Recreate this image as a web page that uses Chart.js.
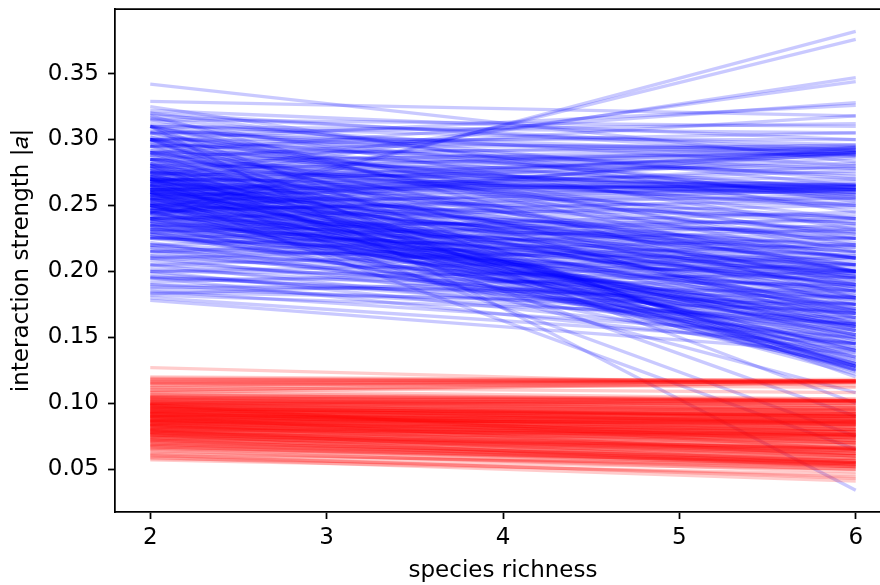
<!DOCTYPE html>
<html>
<head>
<meta charset="utf-8">
<script src="https://cdn.jsdelivr.net/npm/chart.js@4/dist/chart.umd.min.js"></script>
<style>
  html, body { margin: 0; padding: 0; background: #fff; overflow: hidden; }
  #wrap { width: 893px; height: 585px; position: relative; }
</style>
</head>
<body>
<div id="wrap"><canvas id="c"></canvas></div>
<script>
// species richness endpoints
const xValues = [2, 6];
const xTicks = [2, 3, 4, 5, 6];
const yTicks = [0.05, 0.10, 0.15, 0.20, 0.25, 0.30, 0.35];

// blue series: interaction strength at richness 2 and 6
const blueStart = [
  0.240,0.245,0.267,0.272,0.290,0.300,0.329,0.342,0.315,0.310,
  0.305,0.285,0.295,0.290,0.280,0.285,0.300,0.275,0.265,0.305,
  0.270,0.280,0.262,0.290,0.255,0.300,0.268,0.262,0.265,0.258,
  0.270,0.250,0.275,0.255,0.248,0.280,0.310,0.320,0.245,0.260,
  0.300,0.285,0.315,0.250,0.235,0.290,0.325,0.305,0.240,0.300,
  0.310,0.280,0.270,0.290,0.260,0.250,0.245,0.235,0.225,0.215,
  0.220,0.230,0.240,0.255,0.265,0.275,0.285,0.300,0.295,0.305,
  0.310,0.210,0.200,0.205,0.195,0.270,0.260,0.240,0.245,0.250,
  0.255,0.260,0.265,0.270,0.235,0.230,0.225,0.220,0.215,0.210,
  0.205,0.200,0.195,0.190,0.185,0.180,0.178,0.275,0.280,0.285,
  0.290,0.300,0.270,0.260,0.250,0.240,0.245,0.255,0.235,0.265,
  0.310,0.228,0.258,0.248,0.238,0.310,0.280,0.270,0.260,0.300,
  0.250,0.252,0.248,0.256,0.244,0.238,0.232,0.262,0.268,0.276,
  0.282,0.292,0.298,0.318,0.302,0.195,0.188,0.183,0.220,0.210,
  0.272,0.278,0.282,0.260,0.288,0.266,0.252,0.270,0.278,0.246,
  0.258,0.285,0.262,0.240,0.274,0.232,0.236,0.242,0.248,0.254,
  0.258,0.264,0.268,0.272,0.278,0.226,0.218,0.212,0.262,0.268,
  0.243,0.247,0.253,0.257,0.263,0.267,0.273,0.238,0.233,0.228,
  0.278,0.272,0.268,0.262,0.256,0.252,0.246,0.282,0.288,0.295,
  0.300,0.295,0.310,0.318,0.322,0.240,0.230,0.225,0.215,0.205,
  0.200,0.192,0.187,0.182,0.198,0.275,0.285,0.295,0.270,0.260,
  0.248,0.252,0.258,0.262,0.244,0.236,0.232,0.226,0.270,0.276,
  0.242,0.250,0.258,0.266,0.274,0.230,0.222,0.218,0.252,0.264,
  0.240,0.246,0.254,0.260,0.266,0.272,0.228,0.234,0.258,0.250,
  0.302,0.308,0.298,0.312,0.316,0.292,0.288,0.296,0.306,0.320,
  0.268,0.262,0.256,0.250,0.244,0.270,0.264,0.276,0.282,0.254,
  0.208,0.212,0.216,0.196,0.202,0.190,0.184,0.232,0.238,0.226
];
const blueEnd = [
  0.382,0.376,0.347,0.344,0.328,0.326,0.318,0.283,0.310,0.305,
  0.312,0.318,0.295,0.293,0.291,0.289,0.292,0.294,0.290,0.287,
  0.288,0.278,0.276,0.274,0.280,0.272,0.282,0.265,0.263,0.262,
  0.260,0.264,0.258,0.255,0.252,0.250,0.256,0.253,0.262,0.266,
  0.240,0.236,0.232,0.242,0.238,0.228,0.245,0.225,0.230,0.220,
  0.215,0.210,0.205,0.200,0.198,0.195,0.190,0.200,0.205,0.210,
  0.195,0.185,0.182,0.188,0.192,0.200,0.186,0.190,0.200,0.210,
  0.200,0.188,0.195,0.180,0.190,0.182,0.185,0.165,0.160,0.158,
  0.155,0.152,0.150,0.148,0.162,0.170,0.175,0.168,0.160,0.155,
  0.150,0.145,0.140,0.160,0.150,0.145,0.138,0.140,0.135,0.130,
  0.128,0.125,0.130,0.126,0.130,0.135,0.142,0.138,0.128,0.122,
  0.120,0.145,0.170,0.175,0.178,0.034,0.090,0.075,0.065,0.100,
  0.108,0.215,0.220,0.210,0.205,0.212,0.218,0.225,0.230,0.222,
  0.170,0.165,0.175,0.180,0.160,0.175,0.185,0.200,0.235,0.225,
  0.292,0.290,0.294,0.289,0.296,0.264,0.261,0.266,0.262,0.258,
  0.266,0.260,0.268,0.256,0.270,0.205,0.198,0.200,0.202,0.196,
  0.207,0.210,0.196,0.188,0.194,0.192,0.200,0.198,0.200,0.214,
  0.158,0.163,0.161,0.157,0.155,0.165,0.158,0.155,0.152,0.158,
  0.128,0.125,0.127,0.130,0.125,0.133,0.128,0.124,0.132,0.128,
  0.300,0.305,0.296,0.292,0.300,0.250,0.245,0.240,0.232,0.220,
  0.210,0.205,0.170,0.165,0.160,0.240,0.248,0.250,0.236,0.240,
  0.185,0.190,0.180,0.178,0.172,0.168,0.180,0.185,0.172,0.168,
  0.148,0.145,0.142,0.140,0.135,0.140,0.145,0.152,0.152,0.146,
  0.220,0.215,0.225,0.218,0.205,0.210,0.212,0.225,0.232,0.228,
  0.262,0.270,0.258,0.280,0.265,0.255,0.264,0.278,0.290,0.288,
  0.290,0.292,0.286,0.290,0.294,0.262,0.260,0.265,0.262,0.264,
  0.168,0.175,0.180,0.168,0.172,0.180,0.175,0.195,0.190,0.200
];

// red series: interaction strength at richness 2 and 6
const redStart = [
  0.127,0.120,0.119,0.118,0.117,0.116,0.115,0.113,0.112,0.110,
  0.108,0.107,0.105,0.104,0.103,0.102,0.101,0.100,0.099,0.098,
  0.097,0.096,0.095,0.094,0.093,0.092,0.091,0.090,0.089,0.088,
  0.087,0.086,0.085,0.084,0.083,0.082,0.081,0.080,0.079,0.078,
  0.077,0.076,0.075,0.074,0.073,0.072,0.071,0.070,0.069,0.068,
  0.067,0.066,0.065,0.064,0.062,0.060,0.059,0.058,0.057,0.100,
  0.098,0.095,0.092,0.090,0.088,0.086,0.085,0.084,0.082,0.080,
  0.078,0.096,0.094,0.091,0.089,0.087,0.100,0.102,0.104,0.106,
  0.110,0.114,0.093,0.097,0.099,0.083,0.079,0.076,0.090,
  0.118,0.116,0.115,0.112,0.110,0.108,0.106,0.104,0.103,0.101,
  0.100,0.099,0.098,0.097,0.096,0.095,0.094,0.093,0.092,0.091,
  0.090,0.089,0.088,0.087,0.086,0.085,0.084,0.083,0.082,0.081,
  0.080,0.079,0.078,0.077,0.076,0.075,0.074,0.073,0.072,0.071,
  0.070,0.069,0.068,0.067,0.066,0.100,0.098,0.096,0.094,0.092,
  0.090,0.088,0.086,0.084,0.082,0.080,0.078,0.076,0.074,0.072,
  0.105,0.103,0.101,0.099,0.097,0.095,0.093,0.091,0.089,0.087,
  0.085,0.083,0.081,0.079,0.077,0.061,0.063,0.060,0.086,0.092
];
const redEnd = [
  0.113,0.117,0.117,0.116,0.118,0.116,0.112,0.117,0.108,0.103,
  0.102,0.101,0.102,0.098,0.094,0.100,0.096,0.092,0.090,0.088,
  0.085,0.092,0.086,0.080,0.088,0.084,0.078,0.082,0.076,0.085,
  0.072,0.080,0.075,0.070,0.078,0.068,0.074,0.065,0.072,0.062,
  0.070,0.066,0.060,0.064,0.058,0.062,0.055,0.060,0.052,0.058,
  0.055,0.050,0.054,0.048,0.052,0.044,0.041,0.050,0.046,0.100,
  0.097,0.095,0.090,0.088,0.082,0.086,0.083,0.080,0.077,0.075,
  0.073,0.090,0.091,0.087,0.084,0.079,0.095,0.097,0.101,0.102,
  0.116,0.117,0.076,0.070,0.065,0.062,0.055,0.052,0.060,
  0.117,0.117,0.116,0.117,0.115,0.116,0.103,0.102,0.102,0.101,
  0.102,0.100,0.092,0.090,0.091,0.089,0.090,0.086,0.087,0.085,
  0.086,0.085,0.084,0.085,0.076,0.077,0.075,0.076,0.074,0.075,
  0.076,0.067,0.066,0.065,0.064,0.066,0.065,0.063,0.056,0.057,
  0.055,0.056,0.054,0.053,0.055,0.088,0.084,0.082,0.078,0.080,
  0.072,0.070,0.068,0.066,0.064,0.060,0.058,0.056,0.054,0.052,
  0.098,0.096,0.093,0.094,0.095,0.092,0.092,0.090,0.088,0.082,
  0.080,0.072,0.070,0.062,0.060,0.043,0.050,0.053,0.078,0.074
];

const BLUE = 'rgba(0,0,255,0.21)';
const RED = 'rgba(255,0,0,0.2)';
const LW = 3.3;

function makeSet(starts, ends, color) {
  return starts.map((s, i) => ({
    data: [{ x: xValues[0], y: s }, { x: xValues[1], y: ends[i] }],
    borderColor: color,
    borderWidth: LW,
    pointRadius: 0,
    pointHoverRadius: 0,
    fill: false,
    tension: 0
  }));
}

const datasets = [].concat(
  makeSet(redStart, redEnd, RED),
  makeSet(blueStart, blueEnd, BLUE)
);

const frame = {
  id: 'frame',
  afterDraw(chart) {
    const { ctx, chartArea: a } = chart;
    ctx.save();
    ctx.strokeStyle = '#000';
    ctx.lineWidth = 1.75;
    ctx.beginPath();
    ctx.moveTo(a.left, a.top);
    ctx.lineTo(a.right, a.top);
    ctx.lineTo(a.right, a.bottom);
    ctx.stroke();
    ctx.restore();
  }
};

const FONT = { family: 'DejaVu Sans', size: 23 };

new Chart(document.getElementById('c'), {
  type: 'line',
  data: { datasets },
  plugins: [frame],
  options: {
    responsive: true,
    maintainAspectRatio: false,
    animation: false,
    events: [],
    layout: { padding: { top: 9, right: 2, left: 0, bottom: 0 } },
    plugins: { legend: { display: false }, tooltip: { enabled: false } },
    scales: {
      x: {
        type: 'linear',
        min: 1.8,
        max: 6.2,
        afterBuildTicks: (s) => { s.ticks = xTicks.map(v => ({ value: v })); },
        afterFit: (s) => { s.height = 73; s.paddingLeft = 0; s.paddingRight = 0; },
        ticks: { color: '#000', font: FONT, padding: 5, maxRotation: 0,
                 callback: (v) => String(v) },
        grid: { drawOnChartArea: false, drawTicks: true, tickLength: 7,
                tickWidth: 1.75, tickColor: '#000' },
        border: { display: true, color: '#000', width: 1.75 },
        title: { display: true, text: 'species richness', color: '#000',
                 font: FONT, padding: { top: 0, bottom: 0 } }
      },
      y: {
        type: 'linear',
        min: 0.0175,
        max: 0.399,
        afterBuildTicks: (s) => { s.ticks = yTicks.map(v => ({ value: v })); },
        afterFit: (s) => { s.width = 115; s.paddingTop = 0; s.paddingBottom = 0; },
        ticks: { color: '#000', font: FONT, padding: 9,
                 callback: (v) => Number(v).toFixed(2) },
        grid: { drawOnChartArea: false, drawTicks: true, tickLength: 7,
                tickWidth: 1.75, tickColor: '#000' },
        border: { display: true, color: '#000', width: 1.75 },
        title: { display: true, text: 'interaction strength |𝑎|', color: '#000',
                 font: FONT, padding: { top: 8, bottom: 0 } }
      }
    }
  }
});
</script>
</body>
</html>
